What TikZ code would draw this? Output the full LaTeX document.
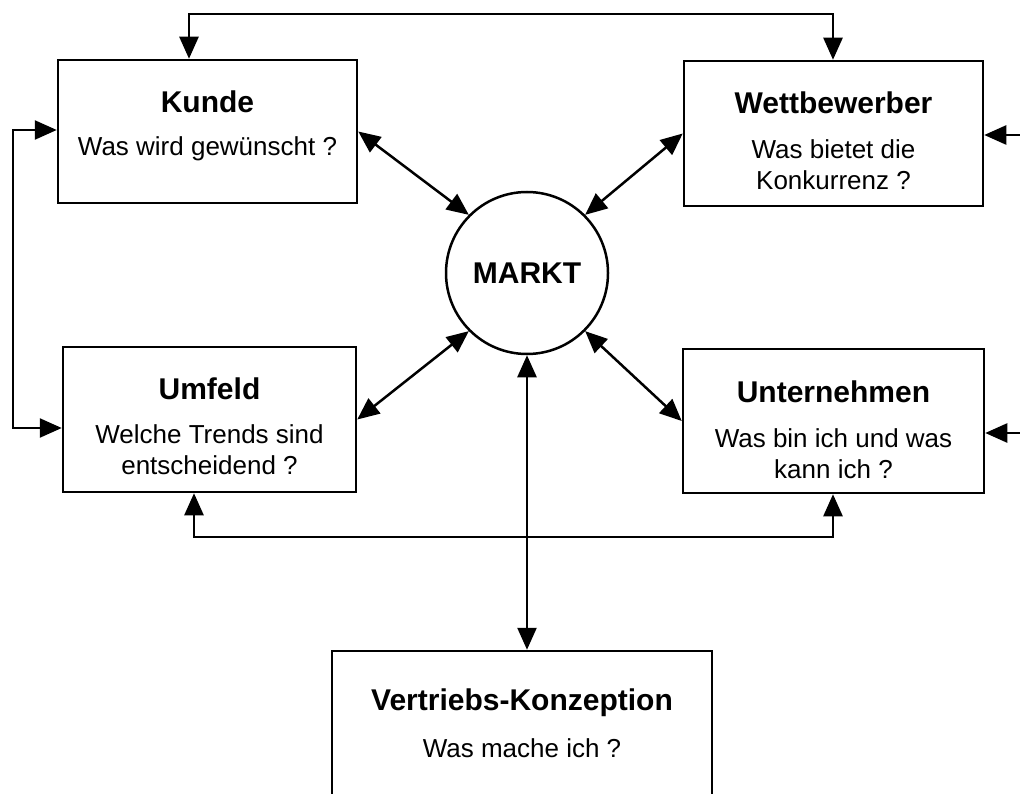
\documentclass[tikz,border=0pt]{standalone}
\usepackage{fontspec}
\setmainfont{Liberation Sans}
\usetikzlibrary{arrows.meta,calc}

\begin{document}
\begin{tikzpicture}[x=1pt,y=-1pt,
  box/.style={draw,line width=2.5pt,inner sep=0pt},
  titel/.style={anchor=base,font=\fontsize{30}{36}\selectfont\bfseries},
  frage/.style={anchor=base,align=center,font=\fontsize{26}{31}\selectfont},
  pfeil/.style={line width=2.5pt,{Triangle[length=22pt,width=19pt]}-{Triangle[length=22pt,width=19pt]}},
  spitze/.style={line width=2.5pt,-{Triangle[length=22pt,width=19pt]}}]
  \useasboundingbox (0,0) rectangle (1020,794); \clip (0,0) rectangle (1020,794);
  % Kaesten und Markt
  \node[box,minimum width=299,minimum height=143] (kunde) at (207.5,131.5) {};
  \node[box,minimum width=299,minimum height=145] (wettbewerber) at (833.5,133.5) {};
  \node[box,minimum width=293,minimum height=145] (umfeld) at (209.5,419.5) {};
  \node[box,minimum width=301,minimum height=144] (unternehmen) at (833.5,421) {};
  \node[box,minimum width=380,minimum height=150] (vertrieb) at (522,726) {};
  \node[box,circle,minimum size=162,font=\fontsize{30}{36}\selectfont\bfseries] (markt) at (527,273) {MARKT};
  % Texte (bei zwei Zeilen: Grundlinie der letzten Zeile)
  \node[titel] (kunde-t) at (207.5,113) {Kunde}; \node[frage] (kunde-f) at (207.5,156) {Was wird gewünscht ?};
  \node[titel] (wettb-t) at (833.5,114) {Wettbewerber}; \node[frage] (wettb-f) at (833.5,190) {Was bietet die\\Konkurrenz ?};
  \node[titel] (umfeld-t) at (209.5,399) {Umfeld}; \node[frage] (umfeld-f) at (209.5,474) {Welche Trends sind\\entscheidend ?};
  \node[titel] (untern-t) at (833.5,402) {Unternehmen}; \node[frage] (untern-f) at (833.5,478) {Was bin ich und was\\kann ich ?};
  \node[titel] (vertrieb-t) at (522,710) {Vertriebs-Konzeption}; \node[frage] (vertrieb-f) at (522,757) {Was mache ich ?};
  % Verbindungen
  \coordinate (o1) at (189,14); \coordinate (o2) at (833,14);
  \draw[pfeil] (kunde.north -| o1) -- (o1) -- (o2) -- (wettbewerber.north -| o2);
  \coordinate (l1) at (13,130); \coordinate (l2) at (13,428);
  \draw[pfeil] (kunde.west |- l1) -- (l1) -- (l2) -- (umfeld.west |- l2);
  \coordinate (u1) at (194,537); \coordinate (u2) at (833,537);
  \draw[pfeil] (umfeld.south -| u1) -- (u1) -- (u2) -- (unternehmen.south -| u2);
  \coordinate (r1) at (1030,135); \coordinate (r2) at (1030,433);
  \draw[spitze] (r1) -- (wettbewerber.east |- r1); \draw[spitze] (r2) -- (unternehmen.east |- r2);
  \draw[pfeil] (kunde.east) -- (markt.135); \draw[pfeil] (wettbewerber.west) -- (markt.45);
  \draw[pfeil] (umfeld.east) -- (markt.225); \draw[pfeil] (unternehmen.west) -- (markt.-45);
  \draw[pfeil] (markt.south) -- (vertrieb.north -| markt.south);
\end{tikzpicture}
\end{document}
